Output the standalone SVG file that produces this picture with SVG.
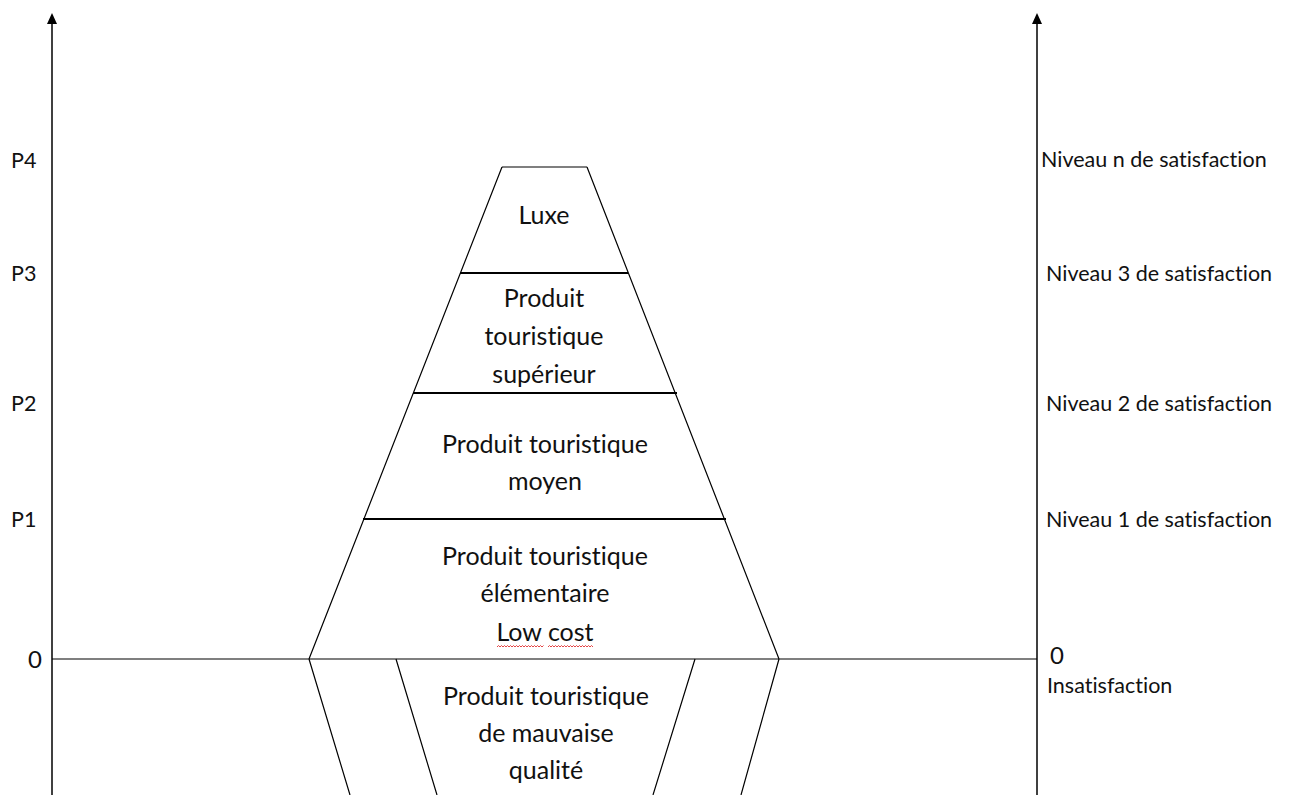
<svg xmlns="http://www.w3.org/2000/svg" width="1291" height="795" viewBox="0 0 1291 795">
<style>
  .ax { stroke: #000; stroke-width: 1.5; fill: none; }
  .thin { stroke: #000; stroke-width: 1.2; fill: none; }
  .sep { stroke: #000; stroke-width: 2.2; fill: none; }
  text { font-variant-ligatures: none; }
  .t { font-family: Lato, "Liberation Sans", sans-serif; font-size: 25px; fill: #111; text-anchor: middle; }
  .l { font-family: Lato, "Liberation Sans", sans-serif; font-size: 21.5px; fill: #111; }
  .z { font-size: 24px; }
  .spell { stroke: #e03030; stroke-width: 0.9; fill: none; }
</style>
<rect width="1291" height="795" fill="#fff"/>
<g id="connectors">
  <line class="ax" x1="52" y1="795" x2="52" y2="22"/>
  <path d="M47,24 L52,13 L57,24 Z" fill="#000"/>
  <line class="ax" x1="1037" y1="795" x2="1037" y2="22"/>
  <path d="M1032,24 L1037,13 L1042,24 Z" fill="#000"/>
  <line class="thin" x1="52" y1="659" x2="1037" y2="659"/>
</g>
<g id="pyramid">
  <path class="thin" d="M502,167 L587,167 M502,167 L309,659 M587,167 L779,659"/>
  <line class="sep" x1="460" y1="273" x2="628" y2="273"/>
  <line class="sep" x1="413" y1="393" x2="677" y2="393"/>
  <line class="sep" x1="363" y1="519" x2="726" y2="519"/>
</g>
<g id="below">
  <path class="thin" d="M309,659 L350,795 M779,659 L741,795 M396,659 L437,795 M695,659 L653,795"/>
</g>
<g id="luxe"><text class="t" x="544" y="224">Luxe</text></g>
<g id="superieur">
  <text class="t" x="544" y="307">Produit</text>
  <text class="t" x="544" y="345">touristique</text>
  <text class="t" x="544" y="383">supérieur</text>
</g>
<g id="moyen">
  <text class="t" x="545" y="453">Produit touristique</text>
  <text class="t" x="545" y="490">moyen</text>
</g>
<g id="elementaire">
  <text class="t" x="545" y="565">Produit touristique</text>
  <text class="t" x="545" y="602">élémentaire</text>
  <text class="t" x="545" y="641">Low cost</text>
  <path class="spell" d="M497,647 l1.5,-1.5 l1.5,1.5 l1.5,-1.5 l1.5,1.5 l1.5,-1.5 l1.5,1.5 l1.5,-1.5 l1.5,1.5 l1.5,-1.5 l1.5,1.5 l1.5,-1.5 l1.5,1.5 l1.5,-1.5 l1.5,1.5 l1.5,-1.5 l1.5,1.5 l1.5,-1.5 l1.5,1.5 l1.5,-1.5 l1.5,1.5 l1.5,-1.5 l1.5,1.5 l1.5,-1.5 l1.5,1.5 l1.5,-1.5 l1.5,1.5 l1.5,-1.5 l1.5,1.5 l1.5,-1.5 l1.5,1.5 l1.5,-1.5 M548,647 l1.5,-1.5 l1.5,1.5 l1.5,-1.5 l1.5,1.5 l1.5,-1.5 l1.5,1.5 l1.5,-1.5 l1.5,1.5 l1.5,-1.5 l1.5,1.5 l1.5,-1.5 l1.5,1.5 l1.5,-1.5 l1.5,1.5 l1.5,-1.5 l1.5,1.5 l1.5,-1.5 l1.5,1.5 l1.5,-1.5 l1.5,1.5 l1.5,-1.5 l1.5,1.5 l1.5,-1.5 l1.5,1.5 l1.5,-1.5 l1.5,1.5 l1.5,-1.5 l1.5,1.5 l1.5,-1.5 l1.5,1.5"/>
</g>
<g id="mauvaise">
  <text class="t" x="546" y="705">Produit touristique</text>
  <text class="t" x="546" y="742">de mauvaise</text>
  <text class="t" x="546" y="779">qualité</text>
</g>
<g id="left-labels">
  <text class="l" x="11" y="168">P4</text>
  <text class="l" x="11" y="281">P3</text>
  <text class="l" x="11" y="411">P2</text>
  <text class="l" x="11" y="527">P1</text>
  <text class="l z" x="28" y="668">0</text>
</g>
<g id="right-labels">
  <text class="l" x="1041" y="167">Niveau n de satisfaction</text>
  <text class="l" x="1046" y="281">Niveau 3 de satisfaction</text>
  <text class="l" x="1046" y="411">Niveau 2 de satisfaction</text>
  <text class="l" x="1046" y="527">Niveau 1 de satisfaction</text>
  <text class="l z" x="1050" y="664">0</text>
  <text class="l" x="1047" y="693">Insatisfaction</text>
</g>
</svg>
